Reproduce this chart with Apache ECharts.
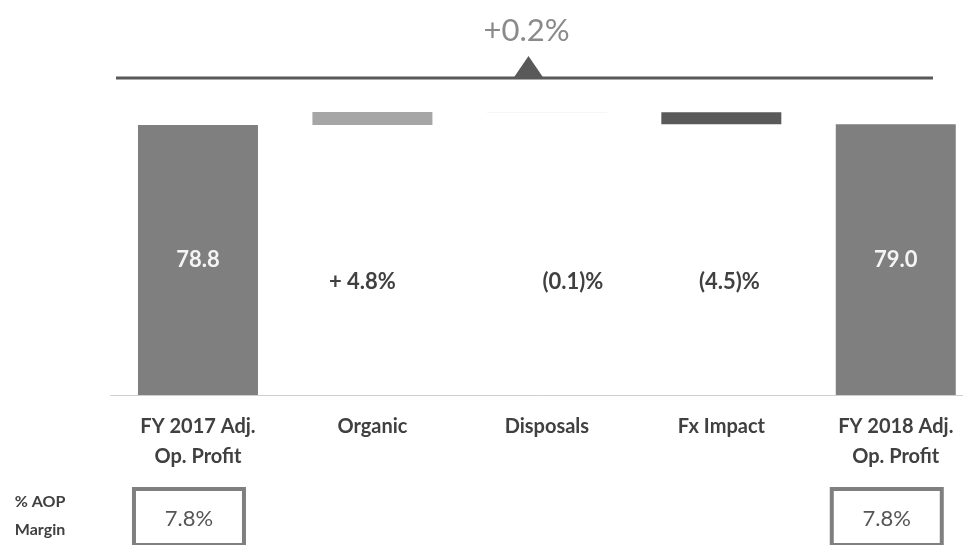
<!DOCTYPE html>
<html>
<head>
<meta charset="utf-8">
<script src="https://cdn.jsdelivr.net/npm/echarts@6/dist/echarts.min.js"></script>
<style>
html,body{margin:0;padding:0;background:#fff;}
#chart{width:963px;height:545px;}
</style>
</head>
<body>
<div id="chart"></div>
<script>
// ---- data ----
const categories = ['FY 2017 Adj.\nOp. Profit', 'Organic', 'Disposals', 'Fx Impact', 'FY 2018 Adj.\nOp. Profit'];
const startValue = 78.8;
const deltas = [3.8, -0.1, -3.5];
const endValue = 79.0;
const barLabels = ['78.8', '+ 4.8%', '(0.1)%', '(4.5)%', '79.0'];
const marginLabels = ['7.8%', '', '', '', '7.8%'];
const marginTitle = '% AOP\nMargin';
const totalChangeLabel = '+0.2%';

// ---- waterfall build ----
const baseVals = [0];
const stepVals = [startValue];
let running = startValue;
deltas.forEach(d => {
  if (d >= 0) { baseVals.push(running); stepVals.push(d); running += d; }
  else { running += d; baseVals.push(running); stepVals.push(-d); }
});
baseVals.push(0);
stepVals.push(endValue);

const barColors = ['#7f7f7f', '#a6a6a6', '#d9d9d9', '#595959', '#7f7f7f'];
const deltaOffsets = [0, -10, 26, 8, 0];
const FONT = 'Lato';

const chart = echarts.init(document.getElementById('chart'));
const last = categories.length - 1;

chart.setOption({
  animation: false,
  backgroundColor: '#ffffff',
  grid: { left: 110.75, right: -20, top: 52.4, bottom: 150, containLabel: false, outerBoundsMode: 'none' },
  xAxis: {
    type: 'category',
    data: categories,
    axisLine: { lineStyle: { color: '#cfcfcf', width: 1 } },
    axisTick: { show: false },
    axisLabel: {
      interval: 0, margin: 17, fontFamily: FONT, fontSize: 20, fontWeight: 'bold',
      color: '#404040', lineHeight: 30
    }
  },
  yAxis: { type: 'value', min: 0, max: 100, show: false },
  series: [
    {
      type: 'bar', stack: 'w', barWidth: 120,
      itemStyle: { color: 'rgba(0,0,0,0)' },
      data: baseVals.map((v, i) => ({
        value: v,
        label: (i > 0 && i < last) ? {
          show: true, position: 'insideBottom', distance: 102,
          offset: [deltaOffsets[i], 0],
          formatter: () => barLabels[i],
          fontFamily: FONT, fontSize: 22, fontWeight: 'bold', color: '#404040'
        } : { show: false }
      }))
    },
    {
      type: 'bar', stack: 'w', barWidth: 120,
      data: stepVals.map((v, i) => ({
        value: v,
        itemStyle: { color: barColors[i] },
        label: (i === 0 || i === last) ? {
          show: true, position: 'inside',
          formatter: () => barLabels[i],
          fontFamily: FONT, fontSize: 22, fontWeight: 'bold', color: '#f4f4f4'
        } : { show: false }
      }))
    }
  ]
});

// ---- annotations: total change line, margin boxes ----
const graphics = [];
const lineX0 = 116, lineX1 = 933, lineY = 78;
const midX = (lineX0 + lineX1) / 2 + 4;
graphics.push({
  type: 'line', shape: { x1: lineX0, y1: lineY, x2: lineX1, y2: lineY },
  style: { stroke: '#595959', lineWidth: 3 }, silent: true
});
graphics.push({
  type: 'polygon', shape: { points: [[midX - 15, lineY], [midX, lineY - 22], [midX + 15, lineY]] },
  style: { fill: '#595959' }, silent: true
});
graphics.push({
  type: 'text', x: midX - 2, y: 31,
  style: { text: totalChangeLabel, fontFamily: FONT, fontSize: 31, fill: '#8a8a8a', align: 'center', verticalAlign: 'middle' },
  silent: true
});
graphics.push({
  type: 'text', x: 40, y: 516,
  style: { text: marginTitle, fontFamily: FONT, fontSize: 16, fontWeight: 'bold', fill: '#404040',
           align: 'center', verticalAlign: 'middle', lineHeight: 28 },
  silent: true
});
marginLabels.forEach((m, i) => {
  if (!m) return;
  const cx = chart.convertToPixel({ xAxisIndex: 0 }, i) - 9;
  graphics.push({
    type: 'rect', shape: { x: cx - 55, y: 489, width: 110, height: 56 },
    style: { fill: '#ffffff', stroke: '#7f7f7f', lineWidth: 4 }, silent: true
  });
  graphics.push({
    type: 'text', x: cx, y: 519,
    style: { text: m, fontFamily: FONT, fontSize: 22, fill: '#555555', align: 'center', verticalAlign: 'middle' },
    silent: true
  });
});
chart.setOption({ graphic: graphics });
</script>
</body>
</html>
